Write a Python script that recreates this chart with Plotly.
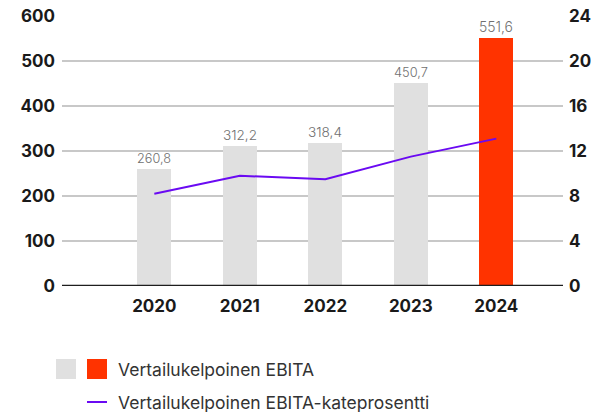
import plotly.graph_objects as go

years = [2020, 2021, 2022, 2023, 2024]
ebita = [260.8, 312.2, 318.4, 450.7, 551.6]
margin_pct = [8.2, 9.8, 9.5, 11.5, 13.1]
bar_colors = ["#e0e0e0", "#e0e0e0", "#e0e0e0", "#e0e0e0", "#ff3300"]
legend_bar = "Vertailukelpoinen EBITA"
legend_line = "Vertailukelpoinen EBITA-kateprosentti"

fig = go.Figure()
fig.add_trace(go.Bar(
    x=years, y=ebita, width=0.4, marker_color=bar_colors, marker_line_width=0,
    texttemplate="%{y:.1f}", textposition="outside", cliponaxis=False,
    textfont=dict(family="Inter", size=14, color="#707070", weight=300),
    showlegend=False, hoverinfo="skip",
))
fig.add_trace(go.Scatter(
    x=years, y=margin_pct, yaxis="y2", mode="lines",
    line=dict(color="#6a0af2", width=2), showlegend=False,
))

tickfont = dict(family="Inter", size=17, color="#1a1a1a", weight=700)
fig.update_layout(
    width=591, height=412, margin=dict(l=62, r=28, t=16, b=126, autoexpand=False),
    paper_bgcolor="white", plot_bgcolor="white", separators=", ",
    bargap=0,
    xaxis=dict(range=[2018.92, 2024.78], tickvals=years, ticktext=[str(y) for y in years],
               showgrid=False, zeroline=False, showline=False, tickfont=tickfont,
               ticks="", ticklabelstandoff=8, automargin=False),
    yaxis=dict(range=[0, 600], dtick=100, showgrid=True, gridcolor="#c8c8c8", gridwidth=1.5,
               zeroline=False, showline=False, tickfont=tickfont, ticks="", ticklabelstandoff=6,
               automargin=False),
    yaxis2=dict(range=[0, 24], dtick=4, overlaying="y", side="right", showgrid=False,
                zeroline=False, showline=False, tickfont=tickfont, ticks="", ticklabelstandoff=5,
                automargin=False),
    shapes=[
        dict(type="line", xref="paper", yref="y", x0=0, x1=1, y0=0, y1=0,
             line=dict(color="#1e1e1e", width=2.5)),
        dict(type="rect", xref="paper", yref="paper", x0=(56-62)/501, x1=(76-62)/501,
             y0=(412-126-379)/270, y1=(412-126-359)/270, fillcolor="#e0e0e0", line_width=0),
        dict(type="rect", xref="paper", yref="paper", x0=(87-62)/501, x1=(107-62)/501,
             y0=(412-126-379)/270, y1=(412-126-359)/270, fillcolor="#ff3300", line_width=0),
        dict(type="line", xref="paper", yref="paper", x0=(87-62)/501, x1=(107-62)/501,
             y0=(412-126-402)/270, y1=(412-126-402)/270, line=dict(color="#6a0af2", width=2)),
    ],
    annotations=[
        dict(text=legend_bar, xref="paper", yref="paper", x=(116-62)/501, y=(412-126-369)/270,
             xanchor="left", yanchor="middle", showarrow=False,
             font=dict(family="Inter", size=17.5, color="#333333")),
        dict(text=legend_line, xref="paper", yref="paper", x=(116-62)/501, y=(412-126-402)/270,
             xanchor="left", yanchor="middle", showarrow=False,
             font=dict(family="Inter", size=17.5, color="#333333")),
    ],
)
fig.write_html("out.html")
